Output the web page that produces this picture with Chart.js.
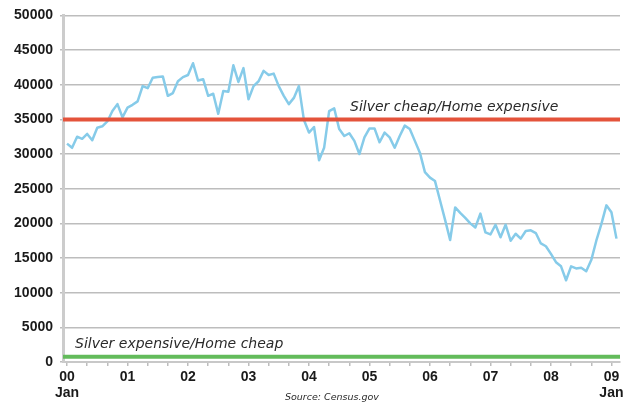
<!DOCTYPE html>
<html>
<head>
<meta charset="utf-8">
<script src="https://cdn.jsdelivr.net/npm/chart.js@4.4.1/dist/chart.umd.min.js"></script>
<style>
  html, body { margin: 0; padding: 0; background: #fff; }
  #wrap { width: 627px; height: 405px; }
</style>
</head>
<body>
<div id="wrap"><canvas id="chart"></canvas></div>
<script>
// monthly values, Jan 2000 .. Feb 2009
const homeValues = [
    31500, 30900, 32500, 32200, 32900, 32000, 33800, 34000, 34700, 36200, 37200, 35300,
    36700, 37100, 37600, 39800, 39500, 41000, 41100, 41200, 38400, 38800, 40500, 41100,
    41400, 43100, 40600, 40800, 38400, 38700, 35800, 39100, 39000, 42800, 40400, 42400,
    37900, 39800, 40500, 42000, 41400, 41600, 39800, 38400, 37200, 38100, 39800, 34900,
    33100, 33900, 29100, 30900, 36200, 36600, 33600, 32600, 33000, 31900, 30000, 32400,
    33700, 33700, 31700, 33100, 32400, 30900, 32600, 34100, 33600, 31900, 30200, 27400,
    26600, 26100, 23300, 20500, 17600, 22300, 21500, 20800, 20000, 19400, 21400, 18700,
    18400, 19800, 18000, 19800, 17500, 18500, 17800, 18900, 19000, 18600, 17100, 16700,
    15600, 14400, 13800, 11800, 13800, 13500, 13600, 13100, 14700, 17500, 19900, 22600,
    21600, 17800
];
const yearLabels = ["00", "01", "02", "03", "04", "05", "06", "07", "08", "09"];
const yTicks = [0, 5000, 10000, 15000, 20000, 25000, 30000, 35000, 40000, 45000, 50000];
const cheapLevel = 35000;
const expensiveLevel = 750;
const cheapText = "Silver cheap/Home expensive";
const expensiveText = "Silver expensive/Home cheap";
const sourceText = "Source: Census.gov";

const xMin = -0.8;
const xMax = 109.7;
const labelFont = "'Liberation Sans', Arial, sans-serif";

const notes = {
    id: "notes",
    afterDatasetsDraw(chart) {
        const ctx = chart.ctx;
        const y = chart.scales.y;
        ctx.save();
        ctx.fillStyle = "#2a2a2a";
        ctx.textBaseline = "middle";
        ctx.textAlign = "left";
        ctx.font = "italic 14px 'DejaVu Sans'";
        ctx.fillText(cheapText, 350, y.getPixelForValue(cheapLevel) - 12);
        ctx.fillText(expensiveText, 75, y.getPixelForValue(expensiveLevel) - 12);
        ctx.font = "italic 9.5px 'DejaVu Sans'";
        ctx.fillText(sourceText, 285, 398);
        ctx.restore();
    },
};

new Chart(document.getElementById("chart"), {
    type: "line",
    data: {
        datasets: [
            {
                data: [{ x: xMin, y: cheapLevel }, { x: xMax, y: cheapLevel }],
                borderColor: "#e4533b",
                borderWidth: 4,
                pointRadius: 0,
            },
            {
                data: [{ x: xMin, y: expensiveLevel }, { x: xMax, y: expensiveLevel }],
                borderColor: "#63bb5b",
                borderWidth: 4,
                pointRadius: 0,
            },
            {
                data: homeValues.map((v, i) => ({ x: i, y: v })),
                borderColor: "#86cbe9",
                borderWidth: 2.5,
                pointRadius: 0,
                tension: 0,
                borderJoinStyle: "round",
            },
        ],
    },
    options: {
        responsive: true,
        maintainAspectRatio: false,
        animation: false,
        layout: { padding: { top: 13, right: 7, left: 0, bottom: 0 } },
        plugins: {
            legend: { display: false },
            tooltip: { enabled: false },
        },
        scales: {
            x: {
                type: "linear",
                min: xMin,
                max: xMax,
                afterBuildTicks: (scale) => {
                    const ticks = [];
                    for (let m = 0; m <= 108; m += 4) ticks.push({ value: m });
                    scale.ticks = ticks;
                },
                afterFit: (scale) => {
                    scale.height = 43;
                },
                ticks: {
                    autoSkip: false,
                    maxRotation: 0,
                    padding: 3,
                    color: "#1a1a1a",
                    font: { family: labelFont, size: 14, weight: "bold", lineHeight: 1.15 },
                    callback: (value) => {
                        if (value % 12 !== 0) return "";
                        const label = yearLabels[value / 12];
                        if (value === 0 || value === 108) return [label, "Jan"];
                        return label;
                    },
                },
                grid: {
                    drawOnChartArea: false,
                    tickLength: 4,
                    color: "#bdbdbd",
                    lineWidth: 1.5,
                },
                border: { color: "#c8c8c8", width: 2 },
            },
            y: {
                min: 0,
                max: 50000,
                afterBuildTicks: (scale) => {
                    scale.ticks = yTicks.map((v) => ({ value: v }));
                },
                afterFit: (scale) => {
                    scale.width = 63;
                },
                ticks: {
                    padding: 7,
                    color: "#1a1a1a",
                    font: { family: labelFont, size: 14, weight: "bold" },
                    callback: (value) => String(value),
                },
                grid: {
                    color: "#bdbdbd",
                    lineWidth: 1.5,
                    tickLength: 3,
                },
                border: { color: "#cccccc", width: 3 },
            },
        },
    },
    plugins: [notes],
});
</script>
</body>
</html>
